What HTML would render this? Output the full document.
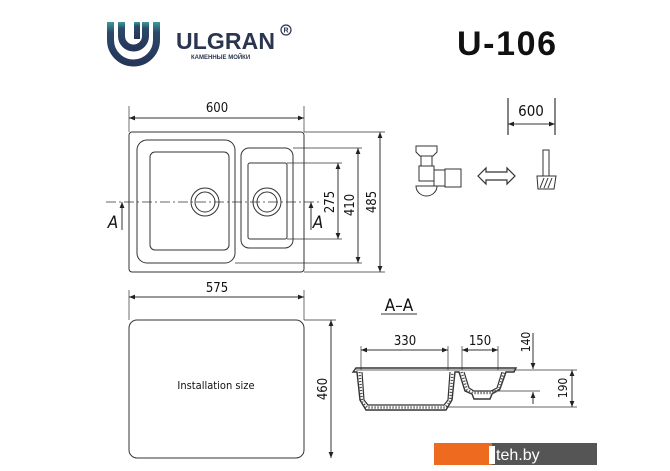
<!DOCTYPE html>
<html><head><meta charset="utf-8"><style>
html,body{margin:0;padding:0;background:#fff}
svg{display:block}
text{font-family:"DejaVu Sans Condensed","Liberation Sans",sans-serif;fill:#111}
</style></head><body>
<svg width="670" height="471" viewBox="0 0 670 471" xmlns="http://www.w3.org/2000/svg">
<defs>
<marker id="ar" viewBox="0 0 10 10" refX="10" refY="5" markerWidth="8" markerHeight="6" orient="auto-start-reverse" markerUnits="userSpaceOnUse"><path d="M0,1 L10,5 L0,9z" fill="#222"/></marker>
<linearGradient id="lg" x1="0" y1="0" x2="0" y2="1"><stop offset="0" stop-color="#3f9a9a"/><stop offset="0.25" stop-color="#2b4a6a"/><stop offset="1" stop-color="#26365a"/></linearGradient>
</defs>
<!-- logo -->
<path d="M110.5,22 V40 A23,23 0 0 0 156.5,40 V22" fill="none" stroke="url(#lg)" stroke-width="7"/>
<path d="M121.5,22 V36 A12,12 0 0 0 145.5,36 V22" fill="none" stroke="url(#lg)" stroke-width="7"/>
<rect x="134" y="22" width="6" height="17" fill="url(#lg)"/>
<text x="176" y="49" font-weight="bold" font-size="23" style="font-family:'Liberation Sans';fill:#2a3550" textLength="99">ULGRAN</text>
<text x="191" y="59" style="font-family:'Liberation Sans';fill:#2a3550" font-weight="bold" font-size="6">КАМЕННЫЕ МОЙКИ</text>
<circle cx="286" cy="30" r="5" fill="none" stroke="#2a3550" stroke-width="1.2"/>
<text x="283.5" y="32.5" style="font-family:'Liberation Sans';fill:#2a3550" font-size="7" font-weight="bold">R</text>
<text x="457" y="55" style="font-family:'Liberation Sans';fill:#111" font-weight="bold" font-size="34" textLength="99">U-106</text>

<g fill="none" stroke="#333" stroke-width="1">
<!-- top view -->
<rect x="129" y="132" width="175" height="140" rx="3"/>
<rect x="137" y="140" width="98" height="123" rx="10"/>
<rect x="150" y="152" width="79" height="98" rx="5"/>
<circle cx="205" cy="202" r="14"/><circle cx="205" cy="202" r="10"/>
<rect x="241" y="148" width="52" height="100" rx="8"/>
<rect x="248" y="163" width="39" height="76" rx="2"/>
<circle cx="267" cy="202" r="14"/><circle cx="267" cy="202" r="10"/>
<line x1="106" y1="202" x2="320" y2="202" stroke-dasharray="10,3,2,3" stroke-width="0.7"/>
<line x1="129" y1="106" x2="129" y2="132" stroke-width="0.7"/>
<line x1="304" y1="106" x2="304" y2="132" stroke-width="0.7"/>
<line x1="129" y1="118" x2="304" y2="118" marker-start="url(#ar)" marker-end="url(#ar)"/>
<line x1="287" y1="163" x2="342" y2="163" stroke-width="0.7"/>
<line x1="287" y1="239" x2="342" y2="239" stroke-width="0.7"/>
<line x1="338" y1="163" x2="338" y2="239" marker-start="url(#ar)" marker-end="url(#ar)"/>
<line x1="293" y1="148" x2="362" y2="148" stroke-width="0.7"/>
<line x1="235" y1="263" x2="362" y2="263" stroke-width="0.7"/>
<line x1="358" y1="148" x2="358" y2="263" marker-start="url(#ar)" marker-end="url(#ar)"/>
<line x1="304" y1="132" x2="385" y2="132" stroke-width="0.7"/>
<line x1="304" y1="272" x2="385" y2="272" stroke-width="0.7"/>
<line x1="380" y1="132" x2="380" y2="272" marker-start="url(#ar)" marker-end="url(#ar)"/>
<line x1="122" y1="230" x2="122" y2="202" marker-end="url(#ar)"/>
<line x1="311" y1="230" x2="311" y2="202" marker-end="url(#ar)"/>
<!-- install -->
<line x1="129" y1="290" x2="129" y2="320" stroke-width="0.7"/>
<line x1="304" y1="290" x2="304" y2="320" stroke-width="0.7"/>
<line x1="129" y1="297" x2="304" y2="297" marker-start="url(#ar)" marker-end="url(#ar)"/>
<rect x="129" y="320" width="175" height="138" rx="8"/>
<line x1="304" y1="320" x2="336" y2="320" stroke-width="0.7"/>
<line x1="331" y1="320" x2="331" y2="458" marker-start="url(#ar)" marker-end="url(#ar)"/>
<!-- section -->
<line x1="381" y1="314" x2="417" y2="314"/>
<line x1="361" y1="346" x2="361" y2="370" stroke-width="0.7"/>
<line x1="448" y1="346" x2="448" y2="370" stroke-width="0.7"/>
<line x1="361" y1="350" x2="448" y2="350" marker-start="url(#ar)" marker-end="url(#ar)"/>
<line x1="462" y1="346" x2="462" y2="370" stroke-width="0.7"/>
<line x1="498" y1="346" x2="498" y2="370" stroke-width="0.7"/>
<line x1="462" y1="350" x2="498" y2="350" marker-start="url(#ar)" marker-end="url(#ar)"/>
<path d="M353,372 L356,368 L516,368 L514,372 L506,372 L500,389 L492,394 L490,399 L474,399 L472,394 L465,391 L459,372 L455,372 L452,400 L446,410 L366,410 L360,400 L357,372 Z" stroke-width="1.4"/>
<path d="M362,372 L364,400 L368,405 L444,405 L448,400 L450,372 M464,372 L469,388 L474,391 L491,391 L497,388 L502,372" stroke-width="1.2"/>
<path d="M359.5,372 L362,402 L367,407.5 L445,407.5 L450,402 L452.5,372 M461.5,372 L467,390 L473,393 L492,393 L499,390 L504,372" stroke-width="2.5" stroke="#555" stroke-dasharray="1.2,1.8"/>
<line x1="356" y1="370" x2="577" y2="370" stroke-width="0.7"/>
<line x1="492" y1="391" x2="540" y2="391" stroke-width="0.7"/>
<line x1="446" y1="407" x2="577" y2="407" stroke-width="0.7"/>
<line x1="533" y1="333" x2="533" y2="369" marker-end="url(#ar)"/>
<line x1="533" y1="404" x2="533" y2="392" marker-end="url(#ar)"/>
<line x1="572" y1="370" x2="572" y2="407" marker-start="url(#ar)" marker-end="url(#ar)"/>
<!-- siphon -->
<line x1="508" y1="98" x2="508" y2="135" stroke-width="1.2"/>
<line x1="555" y1="98" x2="555" y2="135" stroke-width="1.2"/>
<line x1="508" y1="124" x2="555" y2="124" marker-start="url(#ar)" marker-end="url(#ar)"/>
<path d="M416,146 H437 V152 L433,156 H420 L416,152 Z"/>
<rect x="421" y="156" width="11" height="10"/>
<rect x="419" y="166" width="15" height="15"/>
<rect x="434" y="170" width="11" height="16"/>
<rect x="445" y="169" width="16" height="18"/>
<path d="M416,186 H437 A10.5,10 0 0 1 416,186 Z"/>
<path d="M478,176 L486,168 V172 H507 V168 L515,176 L507,184 V180 H486 V184 Z" stroke-width="1.2"/>
<rect x="543" y="150" width="6" height="26"/>
<path d="M537,176 H556 L554,189 H538 Z"/>
<path d="M540,188 L544,178 M544,188 L548,178 M548,188 L552,178" stroke-width="1"/>
</g>
<text x="217" y="112" font-size="13" text-anchor="middle">600</text>
<text x="113" y="228" font-size="17" font-style="italic" text-anchor="middle">A</text>
<text x="318" y="228" font-size="17" font-style="italic" text-anchor="middle">A</text>
<text transform="translate(334,202) rotate(-90)" font-size="13" text-anchor="middle">275</text>
<text transform="translate(354,205) rotate(-90)" font-size="13" text-anchor="middle">410</text>
<text transform="translate(376,202) rotate(-90)" font-size="13" text-anchor="middle">485</text>
<text x="217" y="292" font-size="13" text-anchor="middle">575</text>
<text x="216" y="389" font-size="11" text-anchor="middle">Installation size</text>
<text transform="translate(327,389) rotate(-90)" font-size="13" text-anchor="middle">460</text>
<text x="399" y="311" font-size="17" text-anchor="middle">A–A</text>
<text x="405" y="345" font-size="13" text-anchor="middle">330</text>
<text x="480" y="345" font-size="13" text-anchor="middle">150</text>
<text transform="translate(530,342) rotate(-90)" font-size="12" text-anchor="middle">140</text>
<text transform="translate(567,388) rotate(-90)" font-size="12" text-anchor="middle">190</text>
<text x="531" y="116" font-size="15" text-anchor="middle">600</text>
<!-- watermark -->
<rect x="434" y="443" width="58" height="22" fill="#ee6a1f"/>
<rect x="492" y="443" width="105" height="22" fill="#555"/>
<path d="M489,446 h6 v18 h-6 z" fill="#fff"/>
<text x="496" y="460" font-size="16" style="font-family:'Liberation Sans';fill:#fff">teh.by</text>
</svg>
</body></html>
